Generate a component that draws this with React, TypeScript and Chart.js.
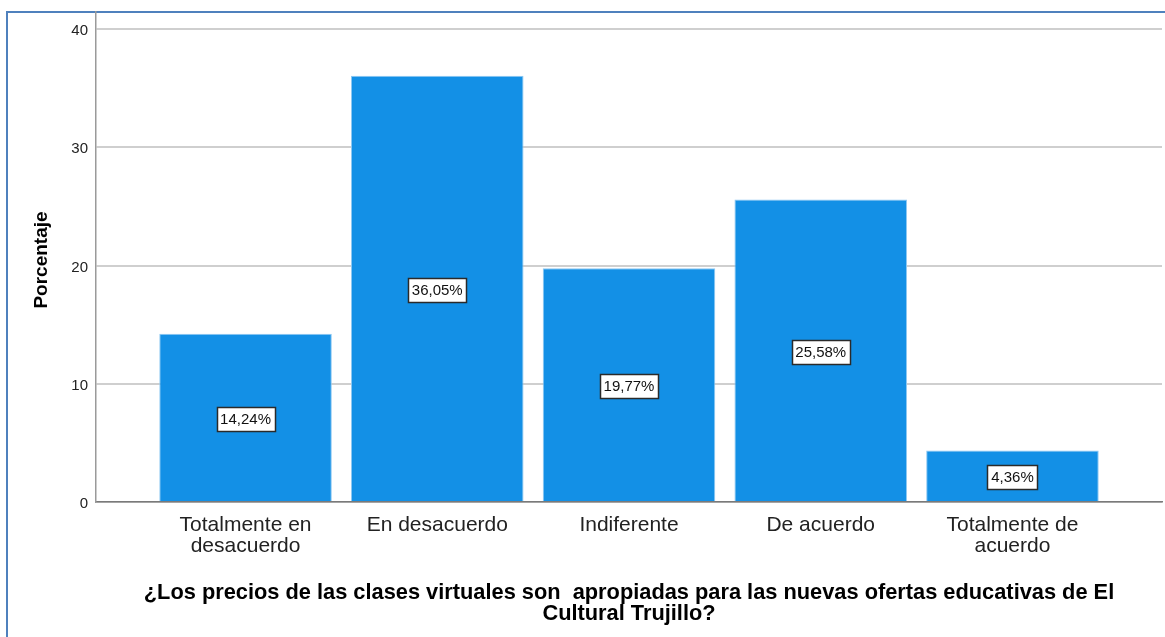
import React, { useEffect, useRef } from "react";
import { Chart, registerables } from "chart.js";

Chart.register(...registerables);

const categories: string[][] = [
  ["Totalmente en", "desacuerdo"],
  ["En desacuerdo"],
  ["Indiferente"],
  ["De acuerdo"],
  ["Totalmente de", "acuerdo"],
];
const percentages: number[] = [14.24, 36.05, 19.77, 25.58, 4.36];
const yTicks: number[] = [0, 10, 20, 30, 40];
const xTitle: string[] = [
  "¿Los precios de las clases virtuales son  apropiadas para las nuevas ofertas educativas de El",
  "Cultural Trujillo?",
];
const yTitle = "Porcentaje";

const FONT = "'Liberation Sans', Arial, sans-serif";

const fmt = (v: number) => v.toFixed(2).replace(".", ",") + "%";

export default function App() {
  const ref = useRef<HTMLCanvasElement | null>(null);

  useEffect(() => {
    if (!ref.current) return;
    const decor = {
      id: "decor",
      beforeDraw(chart: any) {
        const ctx = chart.ctx;
        ctx.save();
        ctx.fillStyle = "#ffffff";
        ctx.fillRect(0, 0, chart.width, chart.height);
        ctx.strokeStyle = "#4f81bd";
        ctx.lineWidth = 2;
        ctx.beginPath();
        ctx.moveTo(7, chart.height + 2);
        ctx.lineTo(7, 12);
        ctx.lineTo(chart.width + 2, 12);
        ctx.stroke();
        ctx.restore();
      },
      afterDraw(chart: any) {
        const ctx = chart.ctx;
        const area = chart.chartArea;
        ctx.save();
        // data labels
        const meta = chart.getDatasetMeta(0);
        const yScale = chart.scales.y;
        ctx.font = `15px ${FONT}`;
        ctx.textAlign = "center";
        ctx.textBaseline = "middle";
        meta.data.forEach((bar: any, i: number) => {
          const v = percentages[i];
          const cy = yScale.getPixelForValue(v / 2) + 1;
          const cx = bar.x;
          const text = fmt(v);
          const w = Math.round(ctx.measureText(text).width + 7);
          const h = 24;
          const x0 = Math.round(cx - w / 2) + 0.5;
          const y0 = Math.round(cy - h / 2) + 0.5;
          ctx.fillStyle = "#ffffff";
          ctx.fillRect(x0, y0, w, h);
          ctx.strokeStyle = "#2a2a2a";
          ctx.lineWidth = 1.5;
          ctx.strokeRect(x0, y0, w, h);
          ctx.fillStyle = "#111111";
          ctx.fillText(text, cx, cy + 1);
        });
        // x title
        const cxT = (area.left + area.right) / 2;
        ctx.font = `bold 21.8px ${FONT}`;
        ctx.fillStyle = "#000000";
        ctx.textBaseline = "alphabetic";
        ctx.fillText(xTitle[0], cxT, 599);
        ctx.fillText(xTitle[1], cxT, 620);
        // y title
        ctx.translate(42, 260);
        ctx.rotate(-Math.PI / 2);
        ctx.font = `bold 19px ${FONT}`;
        ctx.textBaseline = "middle";
        ctx.fillText(yTitle, 0, 0);
        ctx.restore();
      },
    };

    const chart = new Chart(ref.current, {
      type: "bar",
      data: {
        datasets: [
          {
            data: percentages.map((v, i) => ({ x: i, y: v })),
            backgroundColor: "#1390e6",
            borderColor: "#8ec8f2",
            borderWidth: { left: 1, right: 1, top: 1, bottom: 0 },
            barPercentage: 0.9,
            categoryPercentage: 1.0,
          },
        ],
      },
      options: {
        responsive: false,
        animation: false,
        devicePixelRatio: 1,
        layout: { padding: { left: 0, top: 12, right: 3, bottom: 0 } },
        plugins: {
          legend: { display: false },
          tooltip: { enabled: false },
          title: { display: false },
        },
        scales: {
          x: {
            type: "linear",
            offset: false,
            min: -0.78,
            max: 4.78,
            afterBuildTicks: (scale: any) => {
              scale.ticks = categories.map((_, i) => ({ value: i }));
            },
            afterFit: (scale: any) => {
              scale.height = 135;
              scale.paddingLeft = 0;
              scale.paddingRight = 0;
            },
            grid: { display: false, drawTicks: false, offset: false },
            border: { display: true, color: "#7a7a7a", width: 1.5 },
            ticks: {
              padding: 13,
              color: "#222222",
              font: { family: FONT, size: 21, lineHeight: 1.0 },
              maxRotation: 0,
              autoSkip: false,
              callback: (v: any) => categories[Math.round(Number(v))] ?? "",
            },
          },
          y: {
            type: "linear",
            min: 0,
            max: 41.45,
            afterBuildTicks: (scale: any) => {
              scale.ticks = yTicks.map((v) => ({ value: v }));
            },
            afterFit: (scale: any) => {
              scale.width = 96;
              scale.paddingTop = 0;
              scale.paddingBottom = 0;
            },
            grid: { color: "#cfcfcf", lineWidth: 2, drawTicks: false },
            border: { display: true, color: "#9a9a9a", width: 1.5 },
            ticks: {
              padding: 8,
              labelOffset: 2,
              color: "#222222",
              font: { family: FONT, size: 15 },
              callback: (v: any) => String(v),
            },
          },
        },
      },
      plugins: [decor],
    } as any);
    return () => chart.destroy();
  }, []);

  return (
    <div style={{ position: "absolute", left: 0, top: 0, width: 1165, height: 637, overflow: "hidden" }}>
      <canvas ref={ref} width={1165} height={637} style={{ display: "block", width: 1165, height: 637 }} />
    </div>
  );
}
